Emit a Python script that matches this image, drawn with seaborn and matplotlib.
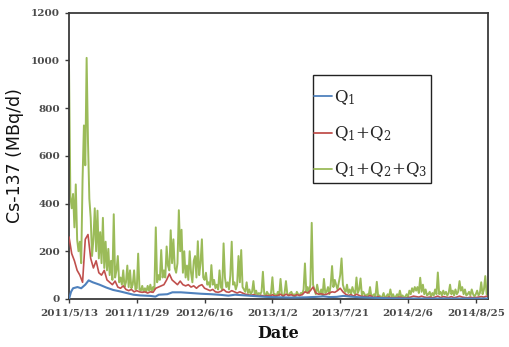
import numpy as np
import pandas as pd
import matplotlib
matplotlib.use("Agg")
import matplotlib.pyplot as plt
import matplotlib.dates as mdates
from matplotlib.ticker import FuncFormatter
from matplotlib.patches import Rectangle
import seaborn as sns

# ---------------- data ----------------
start_date = "2011-05-13"
green_step_days = 4      # Q1+Q2+Q3 sampled every 4 days
red_step_days = 8        # Q1+Q2 sampled every 8 days

q123 = [
    980, 430, 380, 440, 300, 480, 250, 200, 240, 150,
    500, 727, 560, 1010, 660, 420, 340, 180, 250, 380,
    200, 370, 170, 280, 150, 340, 130, 240, 120, 210,
    100, 160, 80, 355, 90, 120, 180, 70, 90, 60,
    120, 50, 70, 140, 50, 120, 45, 60, 120, 40,
    45, 190, 40, 35, 55, 30, 45, 30, 55, 35,
    60, 30, 50, 40, 300, 70, 100, 80, 205, 90,
    120, 90, 220, 140, 120, 288, 150, 250, 130, 110,
    150, 372, 200, 290, 110, 200, 90, 140, 80, 200,
    110, 70, 160, 180, 90, 242, 100, 150, 250, 90,
    80, 110, 60, 70, 50, 142, 60, 80, 45, 60,
    40, 120, 50, 40, 233, 90, 50, 70, 40, 100,
    240, 60, 70, 40, 60, 180, 70, 205, 50, 40,
    30, 70, 25, 40, 20, 30, 75, 20, 35, 15,
    25, 20, 30, 114, 20, 15, 30, 20, 15, 25,
    91, 15, 20, 10, 30, 15, 84, 20, 10, 25,
    75, 20, 15, 25, 30, 15, 20, 10, 30, 20,
    15, 25, 20, 40, 149, 30, 50, 25, 60, 319,
    60, 40, 20, 60, 30, 20, 40, 15, 84, 25,
    30, 50, 20, 60, 138, 50, 80, 60, 40, 70,
    100, 170, 60, 40, 30, 60, 25, 40, 20, 50,
    30, 20, 90, 25, 40, 86, 15, 30, 20, 10,
    20, 15, 50, 10, 15, 20, 10, 72, 10, 15,
    5, 10, 25, 5, 10, 20, 8, 40, 10, 20,
    5, 10, 20, 8, 35, 10, 15, 5, 10, 20,
    8, 35, 20, 45, 30, 50, 35, 50, 25, 89,
    30, 60, 20, 40, 15, 20, 30, 10, 25, 15,
    40, 20, 111, 20, 30, 15, 35, 20, 30, 15,
    25, 60, 20, 35, 15, 40, 20, 30, 75, 35,
    50, 20, 40, 15, 20, 30, 15, 40, 20, 10,
    20, 35, 15, 25, 70, 20, 40, 96, 20,
]

q12 = [
    260, 190, 160, 120, 100, 70, 250, 270, 170, 130,
    160, 110, 100, 120, 80, 70, 60, 75, 50, 45,
    55, 40, 35, 40, 30, 35, 30, 28, 30, 25,
    30, 28, 45, 50, 55, 60, 80, 105, 80, 70,
    60, 75, 60, 55, 60, 50, 55, 45, 55, 60,
    45, 40, 35, 40, 30, 28, 32, 40, 30, 28,
    35, 30, 25, 30, 25, 20, 18, 15, 18, 15,
    12, 15, 12, 15, 12, 18, 12, 15, 20, 12,
    20, 15, 18, 12, 18, 15, 18, 30, 25, 35,
    50, 25, 20, 22, 18, 20, 25, 30, 28, 35,
    45, 30, 20, 15, 18, 12, 20, 15, 10, 12,
    8, 15, 8, 6, 10, 5, 6, 5, 8, 5,
    4, 6, 8, 5, 4, 6, 8, 12, 10, 8,
    12, 8, 6, 8, 5, 8, 12, 6, 10, 8,
    6, 10, 5, 8, 12, 8, 6, 5, 8, 5,
    6, 8, 10, 8, 12,
]

q1_days = [0, 6, 12, 25, 36, 48, 58, 70, 90, 110, 130, 150, 170, 190, 210,
           240, 255, 265, 290, 305, 330, 360, 390, 420, 450, 470, 490, 520,
           550, 580, 620, 660, 700, 730, 750, 770, 790, 810, 830, 860, 900,
           940, 1000, 1100, 1236]
q1 = [0, 30, 45, 50, 45, 60, 78, 70, 60, 48, 38, 32, 25, 18, 15,
      13, 10, 18, 20, 28, 28, 25, 22, 20, 17, 14, 18, 15,
      12, 9, 7, 6, 7, 9, 11, 8, 9, 13, 10, 7, 5,
      3, 2, 2, 2]

y_ticks = [0, 200, 400, 600, 800, 1000, 1200]
x_tick_days = [0, 200, 400, 600, 800, 1000, 1200]
x_max_days = 1236
series_names = ["Q$_1$", "Q$_1$+Q$_2$", "Q$_1$+Q$_2$+Q$_3$"]
colors = ["#4F81BD", "#C0504D", "#9BBB59"]

# ---------------- build frames ----------------
t0 = pd.Timestamp(start_date)
green_df = pd.DataFrame({
    "date": t0 + pd.to_timedelta(np.arange(len(q123)) * green_step_days, unit="D"),
    "value": q123})
red_df = pd.DataFrame({
    "date": t0 + pd.to_timedelta(np.arange(len(q12)) * red_step_days, unit="D"),
    "value": q12})
blue_df = pd.DataFrame({
    "date": t0 + pd.to_timedelta(q1_days, unit="D"),
    "value": q1})

# ---------------- plot ----------------
sns.set_style("ticks")
plt.rcParams["font.family"] = ["DejaVu Serif"]
plt.rcParams["mathtext.default"] = "regular"

fig = plt.figure(figsize=(5.10, 3.47), dpi=100)
ax = fig.add_axes([69 / 510, 1 - 299 / 347, (488 - 69) / 510, (299 - 12.5) / 347])

sns.lineplot(data=green_df, x="date", y="value", ax=ax, color=colors[2],
             lw=1.4, label=series_names[2], zorder=2)
sns.lineplot(data=red_df, x="date", y="value", ax=ax, color=colors[1],
             lw=1.2, label=series_names[1], zorder=3)
sns.lineplot(data=blue_df, x="date", y="value", ax=ax, color=colors[0],
             lw=1.5, label=series_names[0], zorder=4)

ax.set_ylim(0, 1200)
ax.set_yticks(y_ticks)
ax.set_xlim(t0, t0 + pd.Timedelta(days=x_max_days))
xt = [t0 + pd.Timedelta(days=d) for d in x_tick_days]
ax.set_xticks(xt)
ax.xaxis.set_major_formatter(FuncFormatter(
    lambda v, p: (lambda d: f"{d.year}/{d.month}/{d.day}")(mdates.num2date(v))))

for sp in ax.spines.values():
    sp.set_visible(True)
    sp.set_color("#3a3a3a")
    sp.set_linewidth(1.3)

ax.tick_params(axis="both", direction="out", length=3, width=1,
               color="#3a3a3a", labelsize=7.5, labelcolor="#4a4a4a")
for lab in ax.get_xticklabels() + ax.get_yticklabels():
    lab.set_fontweight("bold")

ax.set_ylabel("Cs-137 (MBq/d)", fontsize=12.5, family=["DejaVu Sans"],
              color="#111111", labelpad=5)
ax.set_xlabel("Date", fontsize=11.5, fontweight="bold", color="#111111",
              labelpad=6)

# legend frame drawn as a separate box
ax.add_patch(Rectangle((0.582, 0.405), 0.282, 0.377, transform=ax.transAxes,
                       facecolor="white", edgecolor="#222222", lw=1.0,
                       zorder=5))

handles, labels = ax.get_legend_handles_labels()
order = [labels.index(n) for n in series_names]
leg = ax.legend([handles[i] for i in order], [labels[i] for i in order],
                loc="upper left", bbox_to_anchor=(0.584, 0.735),
                fontsize=12, frameon=False,
                handlelength=1.1, handletextpad=0.1, labelspacing=1.05,
                borderpad=0.0, borderaxespad=0)
leg.set_zorder(6)
for ln in leg.get_lines():
    ln.set_linewidth(1.3)

fig.savefig("out.png", dpi=100)
